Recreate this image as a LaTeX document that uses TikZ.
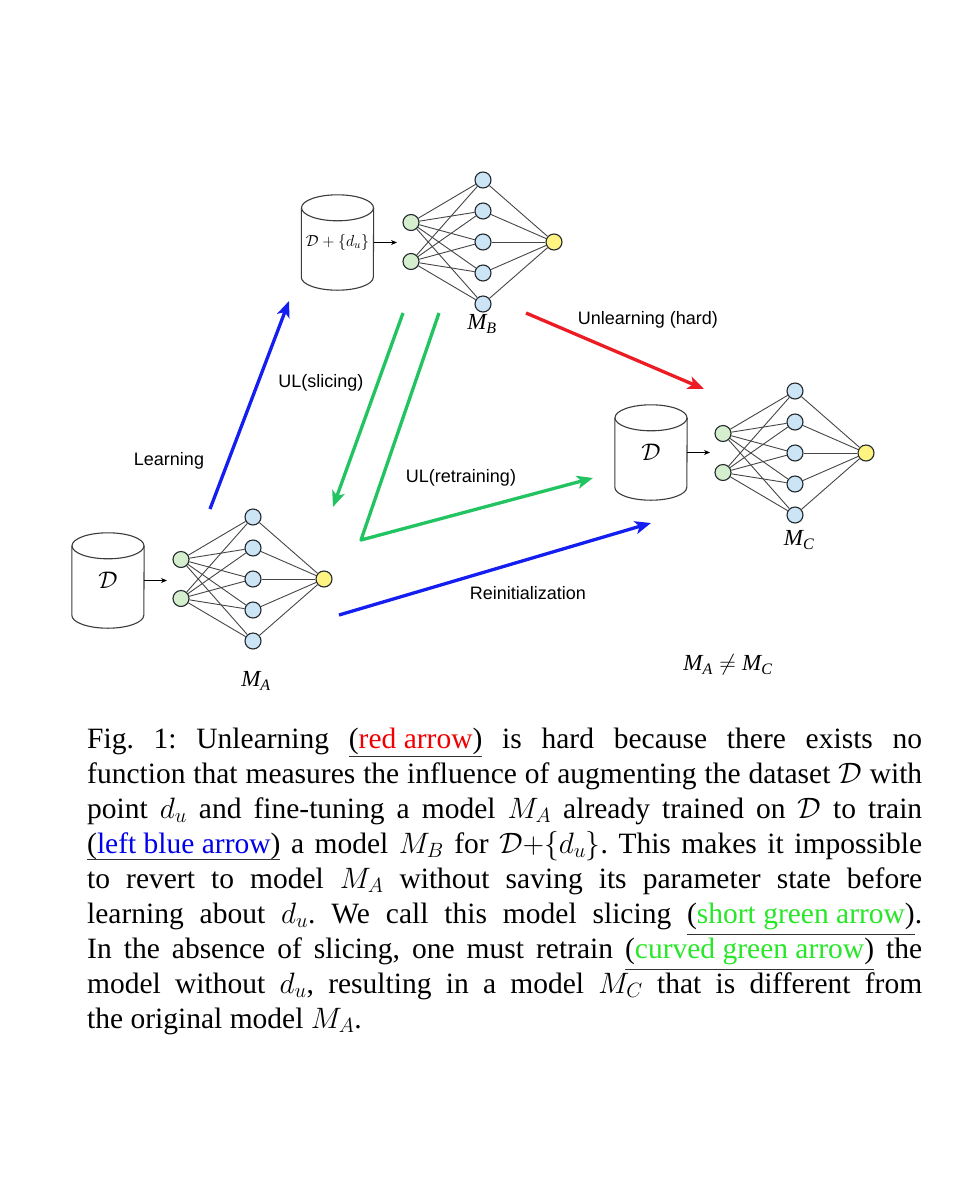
\documentclass[tikz,border=0pt]{standalone}
\usepackage{fix-cm}
\usepackage{fontspec}
\setmainfont{Liberation Serif}
\newfontfamily\sansf{Liberation Sans}
\usetikzlibrary{arrows.meta}
\definecolor{nodestroke}{RGB}{35,40,45}
\definecolor{ngreen}{RGB}{212,238,206}
\definecolor{nblue}{RGB}{204,229,246}
\definecolor{nyellow}{RGB}{255,244,130}
\definecolor{edgegray}{RGB}{70,70,70}
\definecolor{cylgray}{RGB}{60,60,60}
\definecolor{arrblue}{RGB}{20,30,240}
\definecolor{arrred}{RGB}{236,28,36}
\definecolor{arrgreen}{RGB}{34,196,98}
\definecolor{capred}{RGB}{240,0,0}
\definecolor{capblue}{RGB}{0,0,235}
\definecolor{capgreen}{RGB}{40,230,40}
\definecolor{ulgray}{RGB}{50,50,50}
\newsavebox\ulbox
\newcommand\myul[2]{\sbox\ulbox{#2}\rlap{\textcolor{ulgray}{\rule[-#1]{\wd\ulbox}{1.1pt}}}\usebox\ulbox}
\newcommand\tm[1]{\mbox{\itshape M}_{\mbox{\fontsize{16}{16}\selectfont\itshape #1}}}
\tikzset{
  inn/.style={circle, draw=nodestroke, fill=ngreen, line width=1.1pt, minimum size=16pt, inner sep=0pt},
  hid/.style={inn, fill=nblue},
  outn/.style={inn, fill=nyellow},
  nnedge/.style={draw=edgegray, line width=0.9pt},
  cylbody/.style={minimum width=72pt, minimum height=95pt, inner sep=0pt},
  cylline/.style={draw=cylgray, line width=1.1pt},
  smallarr/.style={draw=black, line width=0.9pt, -{Stealth[length=6pt,width=5pt]}},
  bigarr/.style={line width=3.3pt, line join=round, -{Stealth[length=16pt,width=13pt,inset=4pt]}},
  lbl/.style={font=\sansf\fontsize{18}{20}\selectfont, inner sep=0pt},
  mlbl/.style={font=\fontsize{23}{24}\selectfont, inner sep=0pt},
}
\newcommand\mynet[3]{%
  \node[inn] (#1i1) at (#2-72,#3-19.5) {};
  \node[inn] (#1i2) at (#2-72,#3+19.5) {};
  \foreach \k in {1,...,5} {\node[hid] (#1h\k) at (#2,#3+31*\k-93) {};}
  \node[outn] (#1o) at (#2+71,#3) {};
  \foreach \k in {1,...,5} {
    \draw[nnedge] (#1i1) -- (#1h\k);
    \draw[nnedge] (#1i2) -- (#1h\k);
    \draw[nnedge] (#1h\k) -- (#1o);
  }
}
\newcommand\mycyl[4]{%
  \node[cylbody] (#1) at (#2,#3) {#4};
  \draw[cylline] ([yshift=-13pt]#1.north west) -- ([yshift=13pt]#1.south west)
     arc[start angle=180, end angle=360, x radius=36pt, y radius=13pt]
     -- ([yshift=-13pt]#1.north east);
  \draw[cylline] ([yshift=-13pt]#1.north) ellipse[x radius=36pt, y radius=13pt];
}
\begin{document}
\begin{tikzpicture}[x=1pt, y=-1pt]
\useasboundingbox (0,0) rectangle (960,1200);
\fill[white] (0,0) rectangle (960,1200);

% networks
\mynet{A}{253}{579}
\mynet{B}{483}{242}
\mynet{C}{795}{453}

% cylinders
\mycyl{cylA}{108}{580.5}{\raisebox{-13pt}{\fontsize{24}{24}\selectfont$\mathcal{D}$}}
\mycyl{cylB}{337.5}{242.5}{\fontsize{16}{17}\selectfont$\mathcal{D}+\{d_u\}$}
\mycyl{cylC}{651}{452.5}{\raisebox{-13pt}{\fontsize{24}{24}\selectfont$\mathcal{D}$}}

\coordinate (aA) at (167,580.5);
\coordinate (aB) at (397,242.5);
\coordinate (aC) at (710,452.5);
\draw[smallarr] (cylA.east) -- (aA);
\draw[smallarr] (cylB.east) -- (aB);
\draw[smallarr] (cylC.east) -- (aC);

% model labels
\node[mlbl] (mA) at (256,681) {$\tm{A}$};
\node[mlbl] (mB) at (482,324) {$\tm{B}$};
\node[mlbl] (mC) at (799,540) {$\tm{C}$};
\node[mlbl] (neq) at (728,665) {$\tm{A} \neq \tm{C}$};

% big arrows
\coordinate (lS) at (210,509);
\coordinate (lE) at (289,301);
\coordinate (sS) at (403,313);
\coordinate (sE) at (333,507);
\coordinate (rS) at (439,313);
\coordinate (rM) at (361,540);
\coordinate (rE) at (593,478);
\coordinate (iS) at (339,615);
\coordinate (iE) at (651,523);
\coordinate (hS) at (526,313);
\coordinate (hE) at (704,389);
\draw[bigarr, arrblue] (lS) -- (lE);
\draw[bigarr, arrgreen] (sS) -- (sE);
\draw[bigarr, arrgreen] (rS) -- (rM) -- (rE);
\draw[bigarr, arrblue] (iS) -- (iE);
\draw[bigarr, arrred] (hS) -- (hE);

% arrow labels
\node[lbl] (tLearn) at (169,461) {Learning};
\node[lbl] (tSlice) at (321,383) {UL(slicing)};
\node[lbl] (tRetr) at (461,478) {UL(retraining)};
\node[lbl] (tReinit) at (528,593) {Reinitialization};
\node[lbl] (tHard) at (648,320) {Unlearning (hard)};

% caption
\node[anchor=base west, text width=835pt, align=justify, inner sep=0pt,
      font=\fontsize{29.5}{35}\selectfont] (cap) at (87,748)
{\frenchspacing\tolerance=10000\hyphenpenalty=10000\emergencystretch=20pt
Fig.~1: Unlearning \myul{9pt}{(\textcolor{capred}{red arrow})} is hard because there exists no\linebreak
function that measures the influence of augmenting the dataset $\mathcal{D}$ with\linebreak
point $d_u$ and fine-tuning a model $M_A$ already trained on $\mathcal{D}$ to train\linebreak
\myul{7pt}{(\textcolor{capblue}{left blue arrow})} a model $M_B$ for $\mathcal{D}{+}\{d_u\}$. This makes it impossible\linebreak
to revert to model $M_A$ without saving its parameter state before\linebreak
learning about $d_u$. We call this model slicing \myul{12pt}{(\textcolor{capgreen}{short green arrow})}.\linebreak
In the absence of slicing, one must retrain \myul{12pt}{(\textcolor{capgreen}{curved green arrow})} the\linebreak
model without $d_u$, resulting in a model $M_C$ that is different from\linebreak
the original model $M_A$.};
\end{tikzpicture}
\end{document}
